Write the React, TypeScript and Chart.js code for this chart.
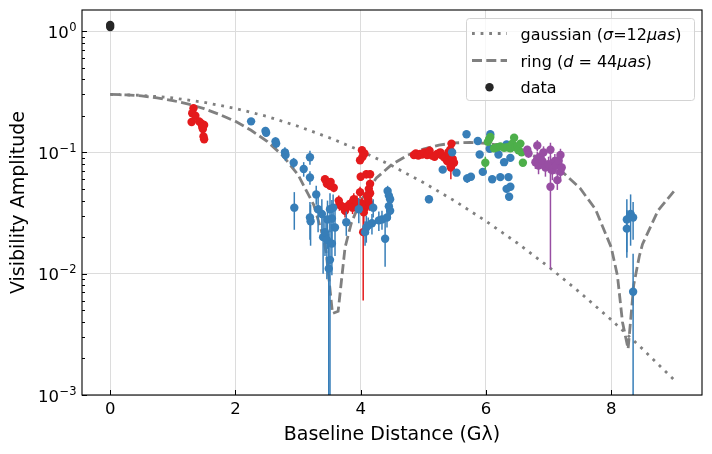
import { useEffect, useRef } from "react"
import Chart from "chart.js/auto"

// axes
const xTicks = [0, 2, 4, 6, 8]
const yTicks = [0.001, 0.01, 0.1, 1]
const yTickExp = ["\u22123", "\u22122", "\u22121", "0"]

// model curves
const gaussX = [0, 0.5, 1, 1.5, 2, 2.5, 3, 3.5, 4, 4.5, 5, 5.5, 6, 6.5, 7, 7.5, 8, 8.5, 9]
const gaussY = [0.3, 0.295, 0.281, 0.258, 0.23, 0.198, 0.164, 0.132, 0.103, 0.0775, 0.0564, 0.0398, 0.0271, 0.0179, 0.0114, 0.007, 0.00417, 0.0024, 0.00134]

const ringX = [0, 0.25, 0.5, 0.75, 1, 1.25, 1.5, 1.75, 2, 2.25, 2.5, 2.75, 3, 3.25, 3.4, 3.45, 3.55, 3.64, 3.75, 3.85, 4, 4.25, 4.5, 4.75, 5, 5.25, 5.5, 5.75, 6, 6.25, 6.5, 6.75, 7, 7.25, 7.5, 7.75, 8, 8.1, 8.18, 8.27, 8.36, 8.45, 8.5, 8.75, 9]
const ringY = [0.3, 0.298, 0.292, 0.281, 0.267, 0.25, 0.229, 0.205, 0.18, 0.152, 0.124, 0.0946, 0.0654, 0.0369, 0.0202, 0.0148, 0.0047, 0.0049, 0.0164, 0.0261, 0.0401, 0.0614, 0.0796, 0.0947, 0.1066, 0.1148, 0.1196, 0.1208, 0.1187, 0.1135, 0.1054, 0.0946, 0.0816, 0.0668, 0.0508, 0.0339, 0.0165, 0.0096, 0.004, 0.0024, 0.0081, 0.014, 0.0175, 0.0333, 0.0477]

// zero baseline
const zeroX = [0, 0]
const zeroY = [1.08, 1.12]
const zeroErr = [0.01, 0.01]

// red
const redX = [1.33, 1.31, 1.36, 1.3, 1.45, 1.5, 1.48, 1.49, 1.5, 1.42, 1.47,
  3.43, 3.46, 3.51, 3.57, 3.52, 3.65, 3.66, 3.7, 3.75, 3.79, 3.83, 3.87, 3.89, 3.94,
  4.02, 4.06, 4.03, 3.99, 4.09, 4.0, 4.15, 3.99, 4.15, 4.13, 4.15, 4.12, 4.07, 4.02, 4.05, 4.04, 4.1, 4.14,
  4.85, 4.88, 4.92, 4.95, 4.98, 5.02, 5.06, 5.1, 5.14, 5.18, 5.22, 5.27, 5.3, 5.34, 5.38, 5.41, 5.43, 5.45, 5.47, 5.49, 5.44, 5.4]
const redY = [0.231, 0.21, 0.2, 0.178, 0.174, 0.168, 0.156, 0.135, 0.128, 0.18, 0.162,
  0.06, 0.055, 0.053, 0.051, 0.057, 0.04, 0.037, 0.036, 0.033, 0.036, 0.0375, 0.035, 0.041, 0.039,
  0.104, 0.098, 0.092, 0.086, 0.066, 0.063, 0.066, 0.047, 0.055, 0.05, 0.046, 0.041, 0.035, 0.038, 0.032, 0.022, 0.044, 0.038,
  0.095, 0.098, 0.094, 0.097, 0.096, 0.1, 0.095, 0.103, 0.094, 0.092, 0.097, 0.1, 0.094, 0.09, 0.085, 0.095, 0.105, 0.118, 0.088, 0.082, 0.075, 0.1]
const redErr = [0.008, 0.008, 0.008, 0.007, 0.007, 0.007, 0.007, 0.006, 0.006, 0.007, 0.007,
  0.004, 0.004, 0.004, 0.004, 0.004, 0.004, 0.004, 0.004, 0.004, 0.004, 0.004, 0.004, 0.005, 0.005,
  0.006, 0.006, 0.006, 0.006, 0.005, 0.005, 0.005, 0.005, 0.005, 0.005, 0.005, 0.005, 0.004, 0.004, 0.006, 0.016, 0.005, 0.005,
  0.004, 0.004, 0.004, 0.004, 0.004, 0.004, 0.004, 0.005, 0.005, 0.005, 0.006, 0.006, 0.008, 0.008, 0.009, 0.006, 0.006, 0.007, 0.01, 0.01, 0.015, 0.008]

// blue
const blueX = [2.25, 2.48, 2.49, 2.64, 2.65, 2.79, 2.8, 2.93, 3.19, 3.09, 3.19, 2.94, 3.29, 3.2, 3.19, 3.38, 3.32, 3.4, 3.43, 3.46,
  3.49, 3.51, 3.54, 3.54, 3.59, 3.51, 3.47, 3.56, 3.77, 3.97, 4.09, 4.07, 4.18, 4.2, 4.29, 4.34, 4.39, 4.43, 4.45, 4.47,
  4.47, 4.42, 4.45, 4.12, 5.09, 5.31, 5.53, 5.46, 5.69, 5.87, 5.9, 6.07, 6.06, 6.2, 6.33, 6.29, 6.39, 5.7, 5.76, 5.95,
  6.1, 6.23, 6.36, 6.33, 6.39, 6.37, 8.25, 8.25, 8.31, 8.35, 8.35]
const blueY = [0.18, 0.15, 0.145, 0.123, 0.118, 0.1, 0.095, 0.082, 0.091, 0.073, 0.062, 0.035, 0.045, 0.027, 0.029, 0.031, 0.034, 0.02, 0.022, 0.019,
  0.011, 0.013, 0.0177, 0.0285, 0.024, 0.034, 0.028, 0.035, 0.0265, 0.034, 0.024, 0.022, 0.026, 0.035, 0.0275, 0.028, 0.0194, 0.048, 0.044, 0.041,
  0.033, 0.029, 0.036, 0.025, 0.041, 0.072, 0.068, 0.1, 0.141, 0.124, 0.096, 0.141, 0.107, 0.096, 0.116, 0.083, 0.09, 0.061, 0.063, 0.069,
  0.06, 0.0625, 0.0625, 0.05, 0.052, 0.043, 0.028, 0.0235, 0.031, 0.029, 0.0071]
const blueErr = [0.012, 0.012, 0.01, 0.01, 0.01, 0.01, 0.01, 0.008, 0.012, 0.01, 0.008, 0.012, 0.008, 0.01, 0.01, 0.01, 0.012, 0.01, 0.008, 0.01,
  0.0105, 0.013, 0.008, 0.012, 0.01, 0.012, 0.012, 0.01, 0.006, 0.008, 0.006, 0.005, 0.005, 0.006, 0.005, 0.005, 0.008, 0.005, 0.005, 0.005,
  0.005, 0.005, 0.005, 0.004, 0.003, 0.004, 0.004, 0.006, 0.006, 0.006, 0.005, 0.006, 0.005, 0.005, 0.006, 0.005, 0.005, 0.005, 0.004, 0.004,
  0.003, 0.003, 0.003, 0.003, 0.003, 0.003, 0.013, 0.01, 0.014, 0.01, 0.0075]

// green
const greenX = [6.03, 6.07, 6.05, 5.99, 6.13, 6.18, 6.23, 6.29, 6.34, 6.39, 6.42, 6.45, 6.47, 6.5, 6.52, 6.55, 6.57, 6.59]
const greenY = [0.122, 0.134, 0.128, 0.082, 0.108, 0.11, 0.112, 0.109, 0.11, 0.108, 0.118, 0.132, 0.11, 0.112, 0.104, 0.118, 0.1, 0.082]
const greenErr = [0.005, 0.005, 0.005, 0.01, 0.004, 0.004, 0.004, 0.004, 0.004, 0.004, 0.005, 0.005, 0.004, 0.004, 0.004, 0.005, 0.004, 0.004]

// purple
const purpleX = [6.66, 6.68, 6.82, 6.79, 6.82, 6.84, 6.87, 6.9, 6.92, 6.95, 7.0, 7.03, 7.06, 7.03, 7.1, 7.12, 7.14, 7.16, 7.19, 7.19, 7.21]
const purpleY = [0.105, 0.098, 0.114, 0.083, 0.089, 0.078, 0.092, 0.085, 0.1, 0.075, 0.08, 0.105, 0.071, 0.052, 0.085, 0.078, 0.059, 0.086, 0.095, 0.069, 0.075]
const purpleErr = [0.008, 0.008, 0.012, 0.01, 0.012, 0.012, 0.01, 0.012, 0.012, 0.012, 0.012, 0.015, 0.012, 0.041, 0.012, 0.012, 0.01, 0.012, 0.012, 0.012, 0.01]

const FONT = "'DejaVu Sans', sans-serif"
const GRAY = "#808080"

const pts = (xs: number[], ys: number[]) => xs.map((x, i) => ({ x, y: ys[i] }))

const markerSet = (label: string, color: string, xs: number[], ys: number[], errs: number[], order: number) => ({
  label,
  data: pts(xs, ys),
  errors: errs,
  backgroundColor: color,
  borderWidth: 0,
  pointRadius: 4.2,
  pointHoverRadius: 4.2,
  showLine: false,
  order,
})

// error bars drawn just under each dataset's markers
const errorBars = {
  id: "errorBars",
  beforeDatasetDraw(chart: any, args: any) {
    const ds = chart.data.datasets[args.index]
    if (!ds.errors) return
    const { ctx, chartArea, scales } = chart
    ctx.save()
    ctx.beginPath()
    ctx.rect(chartArea.left, chartArea.top, chartArea.width, chartArea.height)
    ctx.clip()
    ctx.strokeStyle = ds.backgroundColor
    ctx.lineWidth = 1.5
    ds.data.forEach((p: any, i: number) => {
      const e = ds.errors[i]
      const px = scales.x.getPixelForValue(p.x)
      const top = scales.y.getPixelForValue(p.y + e)
      const lo = p.y - e
      const bot = lo > 0 ? scales.y.getPixelForValue(lo) : chartArea.bottom + 10
      ctx.beginPath()
      ctx.moveTo(px, top)
      ctx.lineTo(px, bot)
      ctx.stroke()
    })
    ctx.restore()
  },
}

// frame, inward ticks, y labels with exponents, legend
const decorations = {
  id: "decorations",
  afterDraw(chart: any) {
    const { ctx, chartArea: a, scales } = chart
    ctx.save()
    ctx.strokeStyle = "#000"
    ctx.lineWidth = 1.1
    ctx.strokeRect(a.left, a.top, a.right - a.left, a.bottom - a.top)

    ctx.lineWidth = 1
    ctx.beginPath()
    xTicks.forEach((v) => {
      const px = Math.round(scales.x.getPixelForValue(v)) + 0.5
      ctx.moveTo(px, a.bottom)
      ctx.lineTo(px, a.bottom - 5)
    })
    yTicks.forEach((v) => {
      const py = Math.round(scales.y.getPixelForValue(v)) + 0.5
      ctx.moveTo(a.left, py)
      ctx.lineTo(a.left + 5, py)
    })
    for (let d = 0.001; d < 1; d *= 10) {
      for (let k = 2; k <= 9; k++) {
        const py = Math.round(scales.y.getPixelForValue(k * d)) + 0.5
        ctx.moveTo(a.left, py)
        ctx.lineTo(a.left + 3, py)
      }
    }
    ctx.stroke()

    // y tick labels 10^n
    ctx.fillStyle = "#000"
    ctx.textBaseline = "alphabetic"
    ctx.textAlign = "left"
    yTicks.forEach((v, i) => {
      const py = scales.y.getPixelForValue(v)
      ctx.font = `16.5px ${FONT}`
      const wb = ctx.measureText("10").width
      ctx.font = `11.5px ${FONT}`
      const we = ctx.measureText(yTickExp[i]).width
      const x0 = a.left - 6 - we - wb
      ctx.font = `16.5px ${FONT}`
      ctx.fillText("10", x0, py + 6.5)
      ctx.font = `11.5px ${FONT}`
      ctx.fillText(yTickExp[i], x0 + wb + 0.5, py - 0.5)
    })

    // legend
    const lx = 466.5, ly = 18.5, lw = 228, lh = 82
    ctx.beginPath()
    ctx.roundRect(lx, ly, lw, lh, 3)
    ctx.fillStyle = "rgba(255,255,255,0.8)"
    ctx.fill()
    ctx.strokeStyle = "#d3d3d3"
    ctx.lineWidth = 1
    ctx.stroke()

    ctx.strokeStyle = GRAY
    ctx.lineWidth = 2.8
    ctx.setLineDash([2.8, 5.8])
    ctx.beginPath()
    ctx.moveTo(472, 33.5)
    ctx.lineTo(507, 33.5)
    ctx.stroke()
    ctx.setLineDash([10, 4.3])
    ctx.beginPath()
    ctx.moveTo(472, 60.5)
    ctx.lineTo(507, 60.5)
    ctx.stroke()
    ctx.setLineDash([])
    ctx.fillStyle = "#262626"
    ctx.beginPath()
    ctx.arc(489.5, 87.3, 4.2, 0, Math.PI * 2)
    ctx.fill()

    const runs = (parts: [string, boolean][], x: number, y: number) => {
      ctx.fillStyle = "#000"
      parts.forEach(([t, it]) => {
        ctx.font = `${it ? "italic " : ""}16px ${FONT}`
        ctx.fillText(t, x, y)
        x += ctx.measureText(t).width
      })
    }
    runs([["gaussian (", false], ["\u03c3", true], ["=12", false], ["\u03bcas", true], [")", false]], 520.5, 39.5)
    runs([["ring (", false], ["d", true], [" = 44", false], ["\u03bcas", true], [")", false]], 520.5, 66.5)
    runs([["data", false]], 520.5, 93)
    ctx.restore()
  },
}

export default function App() {
  const canvasRef = useRef<HTMLCanvasElement>(null)
  const chartRef = useRef<Chart | null>(null)

  useEffect(() => {
    if (!canvasRef.current) return
    if (chartRef.current) chartRef.current.destroy()

    chartRef.current = new Chart(canvasRef.current, {
      type: "scatter",
      data: {
        datasets: [
          markerSet("purple", "#984ea3", purpleX, purpleY, purpleErr, 0),
          markerSet("green", "#4daf4a", greenX, greenY, greenErr, 1),
          markerSet("blue", "#377eb8", blueX, blueY, blueErr, 2),
          markerSet("red", "#e41a1c", redX, redY, redErr, 3),
          markerSet("data", "#262626", zeroX, zeroY, zeroErr, 4),
          {
            label: "ring",
            data: pts(ringX, ringY),
            showLine: true,
            borderColor: GRAY,
            borderWidth: 2.8,
            borderDash: [10, 4.3],
            pointRadius: 0,
            tension: 0,
            order: 10,
          },
          {
            label: "gaussian",
            data: pts(gaussX, gaussY),
            showLine: true,
            borderColor: GRAY,
            borderWidth: 2.8,
            borderDash: [2.8, 5.8],
            pointRadius: 0,
            tension: 0,
            order: 11,
          },
        ] as any,
      },
      options: {
        responsive: false,
        animation: false,
        events: [],
        layout: { padding: { top: 10, right: 10, left: 0, bottom: 0 } },
        plugins: { legend: { display: false }, tooltip: { enabled: false } },
        scales: {
          x: {
            type: "linear",
            min: -0.45,
            max: 9.45,
            afterBuildTicks: (s: any) => {
              s.ticks = xTicks.map((value) => ({ value }))
            },
            afterFit: (s: any) => {
              s.height = 59
            },
            ticks: {
              callback: (v: any) => String(v),
              font: { family: FONT, size: 16.5 },
              color: "#000",
              padding: 4.5,
              maxRotation: 0,
              autoSkip: false,
            },
            grid: { color: "#dcdcdc", lineWidth: 1, drawTicks: false },
            border: { display: false },
            title: {
              display: true,
              text: "Baseline Distance (G\u03bb)",
              font: { family: FONT, size: 19 },
              color: "#000",
              padding: { top: 0, bottom: 7.5 },
            },
          },
          y: {
            type: "logarithmic",
            min: 0.001,
            max: 1.49,
            afterBuildTicks: (s: any) => {
              s.ticks = yTicks.map((value) => ({ value }))
            },
            afterFit: (s: any) => {
              s.width = 82
            },
            ticks: { display: false },
            grid: { color: "#dcdcdc", lineWidth: 1, drawTicks: false },
            border: { display: false },
            title: {
              display: true,
              text: "Visibility Amplitude",
              font: { family: FONT, size: 19 },
              color: "#000",
              padding: { top: 8, bottom: 0 },
            },
          },
        },
      },
      plugins: [errorBars, decorations],
    })

    return () => {
      if (chartRef.current) {
        chartRef.current.destroy()
        chartRef.current = null
      }
    }
  }, [])

  return (
    <div style={{ position: "absolute", left: 0, top: 0, width: 712, height: 454, background: "#fff" }}>
      <canvas ref={canvasRef} width={712} height={454} />
    </div>
  )
}
